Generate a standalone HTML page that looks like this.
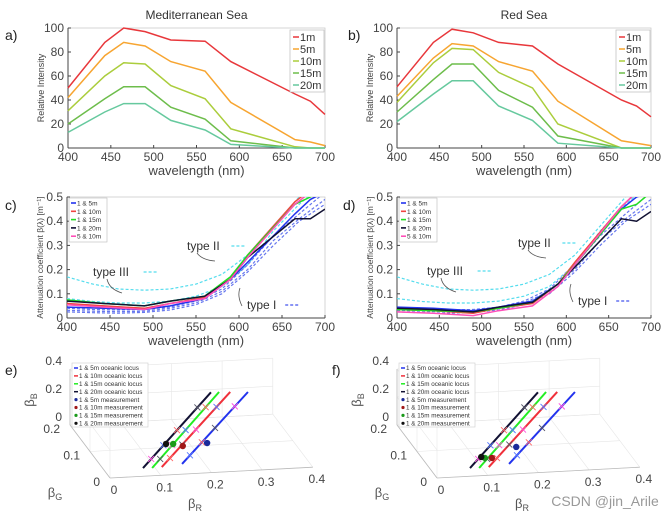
<!DOCTYPE html>
<html><head><meta charset="utf-8"><style>
body{margin:0;background:#fff;}
svg{display:block;font-family:"Liberation Sans",sans-serif;}
</style></head><body>
<svg id="fig" width="667" height="518" viewBox="0 0 667 518" xmlns="http://www.w3.org/2000/svg">
<defs>
<clipPath id="clipC"><rect x="67" y="197" width="258" height="121"/></clipPath>
<clipPath id="clipD"><rect x="397" y="197" width="254" height="121"/></clipPath>
</defs>
</svg>
<script>
// ---- data ----
const wlA = [400,443,465,490,520,560,590,665,683,700];
const depths = ['1m','5m','10m','15m','20m'];
const depthColors = ['#e8373b','#f7a531','#abcd3c','#6dbd4b','#66c99e'];
const medSea = [
 [50,88,100,97,90,89,72,45,39,28],
 [42,77,88,85,72,64,38,7,5,2],
 [31,60,71,70,52,41,16,1,0,0],
 [20,41,51,51,34,24,6,0,0,0],
 [13,30,37,37,23,15,3,0,0,0]];
const redSea = [
 [51,88,99,96,88,85,70,40,35,26],
 [43,75,87,85,72,64,39,6,4,2],
 [38,71,83,82,63,50,20,0,0,0],
 [30,57,70,70,48,34,10,0,0,0],
 [22,45,56,56,35,23,4,0,0,0]];
const xTicks = [400,450,500,550,600,650,700];
const yTicksI = [0,20,40,60,80,100];
const yTicksA = [0,0.1,0.2,0.3,0.4,0.5];
const wlB = [400,443,490,520,560,590,610,665,683,700];
const pairs = ['1 & 5m','1 & 10m','1 & 15m','1 & 20m','5 & 10m'];
const pairColors = ['#2233ee','#f0453f','#22dd22','#111133','#ff4fb8'];
const attC = [
 [0.045,0.04,0.035,0.05,0.08,0.16,0.23,0.43,0.49,0.52],
 [0.06,0.05,0.04,0.06,0.085,0.16,0.26,0.48,0.53,0.55],
 [0.075,0.06,0.05,0.07,0.09,0.17,0.26,0.47,0.50,0.53],
 [0.07,0.06,0.05,0.07,0.09,0.16,0.25,0.41,0.41,0.45],
 [0.055,0.045,0.035,0.06,0.08,0.16,0.25,0.47,0.52,0.55]];
const attD = [
 [0.045,0.04,0.03,0.045,0.07,0.14,0.22,0.45,0.5,0.52],
 [0.035,0.03,0.02,0.04,0.06,0.14,0.23,0.46,0.52,0.55],
 [0.035,0.03,0.025,0.04,0.065,0.14,0.22,0.45,0.47,0.52],
 [0.04,0.035,0.025,0.045,0.065,0.14,0.21,0.41,0.40,0.44],
 [0.025,0.02,0.01,0.03,0.05,0.13,0.22,0.46,0.52,0.55]];
const wlT = [400,430,460,490,520,550,580,610,640,670,700];
const typeIII = [0.17,0.14,0.12,0.115,0.12,0.14,0.18,0.26,0.38,0.5,0.6];
const typeII = [0.08,0.068,0.062,0.062,0.07,0.09,0.13,0.22,0.36,0.47,0.56];
const typeI = [
 [0.04,0.035,0.033,0.035,0.045,0.07,0.12,0.22,0.34,0.43,0.52],
 [0.032,0.028,0.026,0.028,0.04,0.062,0.11,0.2,0.32,0.41,0.49],
 [0.025,0.022,0.02,0.023,0.033,0.055,0.1,0.19,0.3,0.4,0.47]];
// 3D locus: [R0,G0,B0,R1,G1,B1]
const loci = ['1 & 5m oceanic locus','1 & 10m oceanic locus','1 & 15m oceanic locus','1 & 20m oceanic locus'];
const locusColors = ['#2233ee','#f0303a','#22ee22','#111133'];
const locusE = [[0.150,0.02,0.034,0.351,0.2,0.168],[0.110,0.02,0.019,0.316,0.2,0.175],[0.091,0.02,0.016,0.294,0.2,0.179],[0.073,0.02,0.019,0.278,0.2,0.18]];
const crossT = [0.12,0.3,0.5,0.8];
const crossColors = ['#5577ff','#ff6666','#555566','#ff55dd'];
const meas = ['1 & 5m measurement','1 & 10m measurement','1 & 15m measurement','1 & 20m measurement'];
const measColors = ['#1a2a9a','#a01818','#1a9a1a','#111111'];
const measE = [[0.231,0.1,0.016],[0.183,0.1,0.004],[0.164,0.1,0.022],[0.150,0.1,0.025]];
const measF = [[0.176,0.05,0.093],[0.128,0.05,0.024],[0.114,0.05,0.027],[0.107,0.05,0.035]];
const rTicks = [0,0.1,0.2,0.3,0.4];
const gTicks = [0,0.1,0.2];
const bTicks = [0,0.2,0.4];

const NS='http://www.w3.org/2000/svg';
const svg=document.getElementById('fig');
function mk(tag,attrs,parent){const e=document.createElementNS(NS,tag);for(const k in attrs)e.setAttribute(k,attrs[k]);(parent||svg).appendChild(e);return e;}
function txt(s,x,y,size,fill,anchor,parent,extra){const e=mk('text',Object.assign({x:x,y:y,'font-size':size,fill:fill,'text-anchor':anchor||'middle'},extra||{}),parent);e.textContent=s;return e;}

function panel2d(o){
  const g=mk('g',{});
  
  
  const sx=v=>o.x0+(v-400)/300*(o.x1-o.x0);
  const sy=v=>o.y0-(v-o.ymin)/(o.ymax-o.ymin)*(o.y0-o.y1);
  mk('rect',{x:o.x0,y:o.y1,width:o.x1-o.x0,height:o.y0-o.y1,fill:'none',stroke:'#ccc','stroke-width':0.8},g);
  mk('line',{x1:o.x0,y1:o.y0,x2:o.x1,y2:o.y0,stroke:'#444','stroke-width':1},g);
  mk('line',{x1:o.x0,y1:o.y0,x2:o.x0,y2:o.y1,stroke:'#444','stroke-width':1},g);
  xTicks.forEach(t=>{mk('line',{x1:sx(t),y1:o.y0,x2:sx(t),y2:o.y0-3,stroke:'#444'},g);
    const e=txt(String(t),sx(t),o.y0+13,12,'#444','middle',g);
    
    });
  o.yt.forEach(t=>{mk('line',{x1:o.x0,y1:sy(t),x2:o.x0+3,y2:sy(t),stroke:'#444'},g);
    const e=txt(String(t),o.x0-4,sy(t)+4,12,'#444','end',g);
    
    });
  const xl=txt('wavelength (nm)',(o.x0+o.x1)/2,o.y0+27,13,'#444','middle',g);
  
  
  const yl=txt(o.ylab,0,0,o.ylsize,'#444','middle',g,{transform:`translate(${o.x0-24},${(o.y0+o.y1)/2}) rotate(-90)`});
  
  
  const pl=txt(o.letter,o.lx,o.ly,14,'#222','start',g);
  
  
  return {g,sx,sy};
}
function pts(xs,ys,sx,sy){return xs.map((x,i)=>sx(x).toFixed(1)+','+sy(ys[i]).toFixed(1)).join(' ');}

// ---- intensity panels ----
[[medSea,68,325,'Mediterranean Sea','a)',5],[redSea,397,651,'Red Sea','b)',348]].forEach(([data,x0,x1,title,letter,lx],pi)=>{
  const p=panel2d({name:pi?'red-sea-intensity-chart':'med-sea-intensity-chart',x0,x1,y0:148,y1:28,ymin:0,ymax:100,yt:yTicksI,ylab:'Relative Intensity',ylsize:9,letter,lx,ly:40});
  const t=txt(title,(x0+x1)/2,19,12,'#333','middle',p.g);
  
  
  data.forEach((s,i)=>{const l=mk('polyline',{points:pts(wlA,s,p.sx,p.sy),fill:'none',stroke:depthColors[i],'stroke-width':1.5},p.g);
    
    });
  const lg=mk('g',{},p.g);
  
  
  mk('rect',{x:x1-35,y:30,width:34,height:62,fill:'#fff',stroke:'#bbb','stroke-width':0.7},lg);
  depths.forEach((d,i)=>{mk('line',{x1:x1-32,y1:37+i*12,x2:x1-26,y2:37+i*12,stroke:depthColors[i],'stroke-width':1.5},lg);
    const e=txt(d,x1-25,41+i*12,11,'#333','start',lg);
    
    });
});

// ---- attenuation panels ----
[[attC,67,325,'c)',5,'clipC',[[93,276],[187,250],[247,309]]],[attD,397,651,'d)',343,'clipD',[[427,275],[518,247],[578,305]]]].forEach(([data,x0,x1,letter,lx,clip,ann],pi)=>{
  const p=panel2d({name:pi?'red-sea-attenuation-chart':'med-sea-attenuation-chart',x0,x1,y0:318,y1:197,ymin:0,ymax:0.5,yt:yTicksA,ylab:'Attenuation coefficient  β(λ) [m⁻¹]',ylsize:8.5,letter,lx,ly:210});
  const cg=mk('g',{'clip-path':`url(#${clip})`},p.g);
  [typeIII,typeII].forEach((s,i)=>{const l=mk('polyline',{points:pts(wlT,s,p.sx,p.sy),fill:'none',stroke:'#55ddee','stroke-width':1.2,'stroke-dasharray':'3,2'},cg);
    
    });
  typeI.forEach(s=>{const l=mk('polyline',{points:pts(wlT,s,p.sx,p.sy),fill:'none',stroke:'#6677ee','stroke-width':1.2,'stroke-dasharray':'3,2'},cg);
    
    });
  data.forEach((s,i)=>{const l=mk('polyline',{points:pts(wlB,s,p.sx,p.sy),fill:'none',stroke:pairColors[i],'stroke-width':1.5},cg);
    
    });
  // annotations
  const labs=['type III','type II','type I'];
  const dcol=['#55ddee','#55ddee','#4455ee'];
  ann.forEach(([ax,ay],i)=>{const e=txt(labs[i],ax,ay,12,'#333','start',p.g);
    
    
    const w=labs[i].length*6.2;
    mk('line',{x1:ax+w+1,y1:ay-4,x2:ax+w+14,y2:ay-4,stroke:dcol[i],'stroke-width':1.2,'stroke-dasharray':'3,2'},p.g);});
  const [a3,a2,a1]=ann;
  mk('path',{d:`M${a3[0]+14},${a3[1]+3} q2,10 15,14`,fill:'none',stroke:'#555','stroke-width':0.8},p.g);
  mk('path',{d:`M${a2[0]+10},${a2[1]+3} q5,7 18,8`,fill:'none',stroke:'#555','stroke-width':0.8},p.g);
  mk('path',{d:`M${a1[0]-5},${a1[1]-3} q-5,-10 -2,-18`,fill:'none',stroke:'#555','stroke-width':0.8},p.g);
  const lg=mk('g',{},p.g);
  
  
  mk('rect',{x:x0+2,y:198,width:38,height:44,fill:'#fff',stroke:'#bbb','stroke-width':0.6},lg);
  pairs.forEach((d,i)=>{mk('line',{x1:x0+4,y1:203+i*8.3,x2:x0+9,y2:203+i*8.3,stroke:pairColors[i],'stroke-width':1.6},lg);
    const e=txt(d,x0+10,205.5+i*8.3,6.5,'#333','start',lg);
    
    });
});

// ---- 3D panels ----
[[0,measE,'e)','med-sea-3d-locus'],[327,measF,'f)','red-sea-3d-locus']].forEach(([ox,measData,letter,name])=>{
  const g=mk('g',{});
  
  
  const P=(R,G,B)=>[ox+110+507*R-200*G, 478-27*R-265*G-140*B];
  const L=(a,b,st,w)=>{const p=P(...a),q=P(...b);return mk('line',{x1:p[0],y1:p[1],x2:q[0],y2:q[1],stroke:st,'stroke-width':w},g);};
  // grid
  rTicks.forEach(r=>{L([r,0,0],[r,0.2,0],'#e6e6e6',0.6);L([r,0.2,0],[r,0.2,0.4],'#e6e6e6',0.6);});
  gTicks.forEach(v=>{L([0,v,0],[0.4,v,0],'#e6e6e6',0.6);L([0,v,0],[0,v,0.4],'#e6e6e6',0.6);});
  bTicks.forEach(v=>{L([0,0.2,v],[0.4,0.2,v],'#e6e6e6',0.6);L([0,0,v],[0,0.2,v],'#e6e6e6',0.6);});
  L([0,0,0],[0.4,0,0],'#bbb',0.8);L([0,0,0],[0,0.2,0],'#bbb',0.8);L([0,0.2,0],[0,0.2,0.4],'#bbb',0.8);
  rTicks.forEach(r=>{const p=P(r,0,0);const e=txt(String(r),p[0]+4,p[1]+16,12,'#444','middle',g);
    
    });
  gTicks.forEach(v=>{const p=P(0,v,0);const e=txt(String(v),p[0]-10,p[1]+8,12,'#444','end',g);
    
    });
  bTicks.forEach(v=>{const p=P(0,0.2,v);const e=txt(String(v),p[0]-8,p[1]-4,12,'#444','end',g);
    
    });
  const br=txt('β',ox+195,508,13,'#555','middle',g);br.innerHTML='β<tspan font-size="9" dy="3">R</tspan>';
  
  
  const bg=txt('β',ox+55,497,13,'#555','middle',g);bg.innerHTML='β<tspan font-size="9" dy="3">G</tspan>';
  
  
  const bb=txt('β',0,0,13,'#555','middle',g,{transform:`translate(${ox+34},${400}) rotate(-90)`});bb.innerHTML='β<tspan font-size="9" dy="3">B</tspan>';
  
  
  const pl=txt(letter,ox+5,375,14,'#222','start',g);
  
  
  locusE.forEach((s,i)=>{const l=L(s.slice(0,3),s.slice(3),locusColors[i],2);
    
    
    crossT.forEach((t,j)=>{const pt=[0,1,2].map(k=>s[k]+(s[k+3]-s[k])*t);const c=P(...pt);
      const cr=mk('path',{d:`M${c[0]-3},${c[1]-3}l6,6M${c[0]+3},${c[1]-3}l-6,6`,stroke:crossColors[(i+j)%4],'stroke-width':0.9},g);
      
      });});
  measData.forEach((m,i)=>{const c=P(...m);const d=mk('circle',{cx:c[0],cy:c[1],r:3.2,fill:measColors[i]},g);
    
    });
  const lg=mk('g',{},g);
  
  
  mk('rect',{x:ox+72,y:363,width:76,height:64,fill:'#fff',stroke:'#ccc','stroke-width':0.6},lg);
  loci.concat(meas).forEach((d,i)=>{const y=368+i*7.9;
    if(i<4) mk('line',{x1:ox+74,y1:y,x2:ox+78,y2:y,stroke:locusColors[i],'stroke-width':1.5},lg);
    else mk('circle',{cx:ox+76,cy:y,r:1.6,fill:measColors[i-4]},lg);
    const e=txt(d,ox+79,y+2.2,6.3,'#333','start',lg);
    
    });
});
const wm=txt('CSDN @jin_Arile',605,506,14,'#999','middle');


</script>
</body></html>
